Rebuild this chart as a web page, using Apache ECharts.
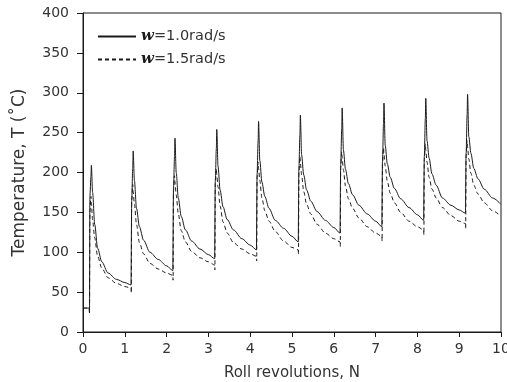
<!DOCTYPE html>
<html>
<head>
<meta charset="utf-8">
<script src="https://cdn.jsdelivr.net/npm/echarts@6/dist/echarts.min.js"></script>
<style>
html,body{margin:0;padding:0;background:#fff;}
#chart{width:507px;height:382px;}
</style>
</head>
<body>
<div id="chart"></div>
<script>
// roll revolutions N (shared by both series)
var N = [0,
	0.15,0.155,0.165,0.19,0.2,0.23,0.28,0.35,0.45,0.6,0.8,1.0,
	1.15,1.155,1.165,1.19,1.2,1.23,1.28,1.35,1.45,1.6,1.8,2.0,
	2.15,2.155,2.165,2.19,2.2,2.23,2.28,2.35,2.45,2.6,2.8,3.0,
	3.15,3.155,3.165,3.19,3.2,3.23,3.28,3.35,3.45,3.6,3.8,4.0,
	4.15,4.155,4.165,4.19,4.2,4.23,4.28,4.35,4.45,4.6,4.8,5.0,
	5.15,5.155,5.165,5.19,5.2,5.23,5.28,5.35,5.45,5.6,5.8,6.0,
	6.15,6.155,6.165,6.19,6.2,6.23,6.28,6.35,6.45,6.6,6.8,7.0,
	7.15,7.155,7.165,7.19,7.2,7.23,7.28,7.35,7.45,7.6,7.8,8.0,
	8.15,8.155,8.165,8.19,8.2,8.23,8.28,8.35,8.45,8.6,8.8,9.0,
	9.15,9.155,9.165,9.19,9.2,9.23,9.28,9.35,9.45,9.6,9.8,10.0];

// temperature, w = 1.0 rad/s (solid)
var T10 = [30,
	30,24,170,195,209,175,135,105,88,74,66,62,
	59,59,165,205,227,190,155,132,115,100,91,83,
	77,77,180,220,243,200,168,145,128,114,104,97,
	92,92,190,230,254,208,178,157,141,128,117,109,
	103,103,198,240,264,215,188,170,155,140,130,120,
	113,113,205,248,272,222,197,178,164,151,140,131,
	124,124,210,255,281,228,204,186,172,159,148,139,
	132,132,215,262,287,234,211,194,180,167,156,147,
	140,140,220,268,293,240,218,198,184,168,159,153,
	149,149,224,273,298,245,224,205,192,179,168,160];

// temperature, w = 1.5 rad/s (dashed)
var T15 = [30,
	30,24,150,170,162,140,118,95,80,68,61,57,
	55,49,165,185,176,160,135,112,98,86,79,74,
	71,65,178,196,188,172,148,127,113,101,93,88,
	84,78,186,205,197,182,158,138,124,112,104,98,
	95,89,194,213,205,190,168,152,139,126,114,106,
	103,97,200,220,212,197,176,160,148,135,124,117,
	113,107,206,226,218,203,183,167,155,143,132,124,
	120,114,211,231,223,208,189,174,162,150,139,132,
	128,122,216,236,228,213,194,179,168,156,146,139,
	136,130,220,240,232,217,199,184,173,162,152,145];

var names = ['w=1.0rad/s', 'w=1.5rad/s'];

function pairs(xs, ys){
	var out = [];
	for(var i = 0;i<xs.length;i++){
		out.push([xs[i], ys[i]]);
	}
	return out;
}

var font = 'DejaVu Sans';
var ink = '#1a1a1a';
var txt = '#333';
var myChart = echarts.init(document.getElementById('chart'), null, {renderer:'canvas'});
var option = {
	backgroundColor : '#fff',
	animation : false,
	grid : {
		left : 83,
		right : 6,
		top : 13,
		bottom : 50,
		outerBoundsMode : 'none',
		show : true,
		borderColor : ink,
		borderWidth : 1
	},
	legend : {
		data : names,
		orient : 'vertical',
		left : 97,
		top : 29,
		padding : 0,
		itemWidth : 38,
		itemHeight : 12,
		itemGap : 8,
		itemStyle : {opacity : 0},
		formatter : function(name){
			return '{w|w}{t|' + name.substring(1) + '}';
		},
		textStyle : {
			color : txt,
			rich : {
				w : {fontFamily:'DejaVu Serif', fontStyle:'italic', fontWeight:'bold', fontSize:15, color:ink},
				t : {fontFamily:font, fontSize:14.5, color:txt}
			}
		}
	},
	xAxis : {
		type : 'value',
		min : 0,
		max : 10,
		interval : 1,
		name : 'Roll revolutions, N',
		nameLocation : 'middle',
		nameGap : 34,
		nameTextStyle : {fontFamily:font, fontSize:15, color:txt},
		axisLine : {lineStyle:{color:ink, width:1}},
		axisTick : {show:true, inside:false, length:5, lineStyle:{color:ink}},
		axisLabel : {fontFamily:font, fontSize:14, color:txt, margin:10},
		splitLine : {show:false}
	},
	yAxis : {
		type : 'value',
		min : 0,
		max : 400,
		interval : 50,
		name : 'Temperature, T (\u02DAC)',
		nameLocation : 'middle',
		nameGap : 55,
		nameTextStyle : {fontFamily:font, fontSize:17, color:txt},
		axisLine : {show:true, lineStyle:{color:ink, width:1}},
		axisTick : {show:true, inside:false, length:6, lineStyle:{color:ink}},
		axisLabel : {fontFamily:font, fontSize:14, color:txt, margin:14},
		splitLine : {show:false}
	},
	series : [{
		name : names[0],
		type : 'line',
		symbol : 'none',
		smooth : 0.3,
		smoothMonotone : 'x',
		data : pairs(N, T10),
		lineStyle : {color:ink, width:1, type:'solid'},
		itemStyle : {color:ink}
	},{
		name : names[1],
		type : 'line',
		symbol : 'none',
		smooth : 0.3,
		smoothMonotone : 'x',
		data : pairs(N, T15),
		lineStyle : {color:ink, width:1, type:[4,3]},
		itemStyle : {color:ink}
	}]
};
myChart.setOption(option);
</script>
</body>
</html>
